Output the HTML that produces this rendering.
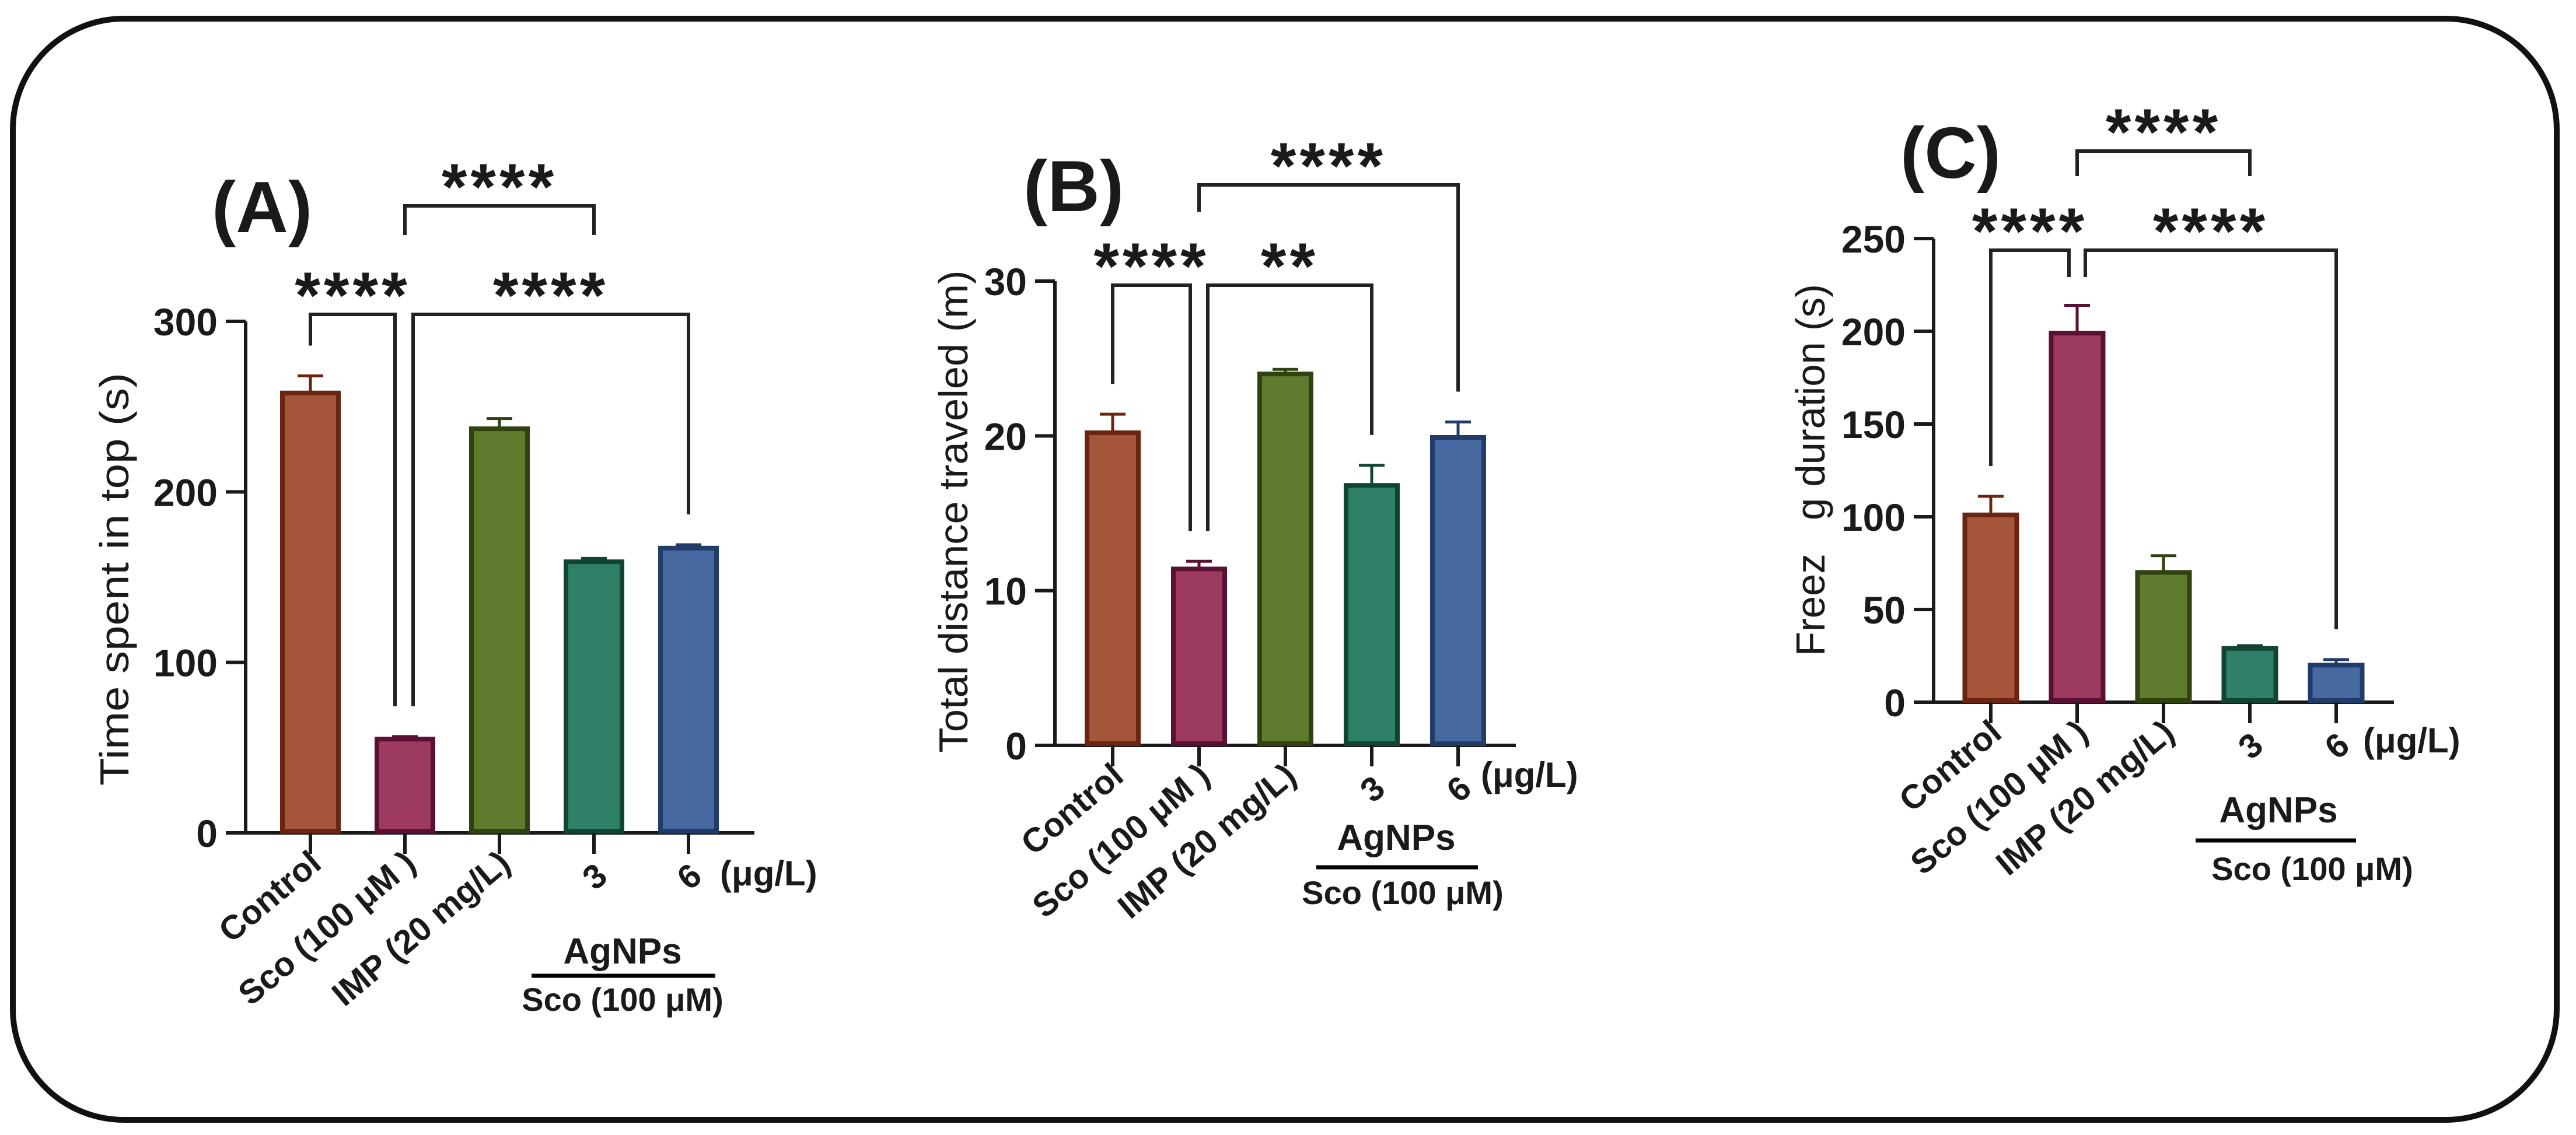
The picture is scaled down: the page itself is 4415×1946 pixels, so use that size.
<!DOCTYPE html>
<html><head><meta charset="utf-8"><title>AgNPs behavioural panels</title>
<style>
html,body{margin:0;padding:0;background:#fff;}
svg{display:block;}
text{font-family:"Liberation Sans",Arial,sans-serif;fill:#1a1a1a;}
</style></head>
<body>
<svg id="fig" width="4415" height="1946" viewBox="0 0 4415 1946" xmlns="http://www.w3.org/2000/svg">
<rect x="22" y="32" width="4360" height="1888" rx="190" ry="190" fill="#fff" stroke="#111" stroke-width="10"/>
</svg>
<script>
// ---- data ----
const categories = ["Control", "Sco (100 μM )", "IMP (20 mg/L)", "3", "6"];
const meansA = [258, 55, 237, 159, 167];
const errA = [10, 1.5, 6, 2, 2];
const ticksA = [0, 100, 200, 300];
const meansB = [20.2, 11.4, 24.0, 16.8, 19.9];
const errB = [1.2, 0.5, 0.3, 1.3, 1.0];
const ticksB = [0, 10, 20, 30];
const meansC = [101, 199, 70, 29, 20];
const errC = [10, 15, 9, 1.5, 3];
const ticksC = [0, 50, 100, 150, 200, 250];
const sigLabelsA = ["****", "****", "****"];
const sigLabelsB = ["****", "**", "****"];
const sigLabelsC = ["****", "****", "****"];

const fills = ["#a5553a", "#9c3a60", "#5f7c2e", "#2e8068", "#4669a2"];
const strokes = ["#6a2410", "#5a1032", "#2f4210", "#124432", "#223c6a"];
const NS = "http://www.w3.org/2000/svg";
const svg = document.getElementById("fig");

function mk(tag, attrs, parent, txt) {
  const e = document.createElementNS(NS, tag);
  for (const k in attrs) e.setAttribute(k, attrs[k]);
  if (txt !== undefined) e.textContent = txt;
  (parent || svg).appendChild(e);
  return e;
}

function panel(cfg) {
  const g = mk("g", {});
  
  
  const yS = v => cfg.y0 - (v / cfg.max) * (cfg.y0 - cfg.yTop);
  const xS = i => cfg.x1 + i * cfg.step;
  const ya = mk("line", {x1: cfg.ax, y1: cfg.yTop, x2: cfg.ax, y2: cfg.y0, stroke: "#1a1a1a", "stroke-width": 6}, g);
  
  
  const xa = mk("line", {x1: cfg.ax - 3, y1: cfg.y0, x2: cfg.xEnd, y2: cfg.y0, stroke: "#1a1a1a", "stroke-width": 6}, g);
  
  
  cfg.ticks.forEach(t => {
    const y = yS(t);
    const tl = mk("line", {x1: cfg.ax - 34, y1: y, x2: cfg.ax, y2: y, stroke: "#1a1a1a", "stroke-width": 6}, g);
    
    
    const tt = mk("text", {x: cfg.ax - 48, y: y + 24, "text-anchor": "end", "font-size": 66, "font-weight": "bold", fill: "#222"}, g, String(t));
    
    
  });
  cfg.means.forEach((m, i) => {
    const cx = xS(i), top = yS(m), w = cfg.bw;
    const ec = yS(m + cfg.err[i]);
    const el = mk("line", {x1: cx, y1: top, x2: cx, y2: ec, stroke: strokes[i], "stroke-width": 5}, g);
    
    
    const ecap = mk("line", {x1: cx - 22, y1: ec, x2: cx + 22, y2: ec, stroke: strokes[i], "stroke-width": 5}, g);
    
    
    const r = mk("rect", {x: cx - w / 2 + 4, y: top, width: w - 8, height: cfg.y0 - top - 3, fill: fills[i], stroke: strokes[i], "stroke-width": 8}, g);
    
    
    const xt = mk("line", {x1: cx, y1: cfg.y0, x2: cx, y2: cfg.y0 + 36, stroke: "#1a1a1a", "stroke-width": 6}, g);
    
    
    let lx, ly;
    if (i < 3) { lx = cx + 22; ly = cfg.y0 + 58; }
    else { lx = cx + 14; ly = cfg.y0 + 90; }
    const lt = mk("text", {x: lx, y: ly, "text-anchor": i < 3 ? "end" : "middle", "font-size": 58, "font-weight": "bold", fill: "#222", transform: "rotate(-40 " + lx + " " + ly + ")"}, g, categories[i]);
    
    
  });
  cfg.brackets.forEach((b, k) => {
    const xa_ = xS(b.a) + (b.aOff || 0), xb_ = xS(b.b) + (b.bOff || 0);
    const ea = b.legA ? b.y + b.legA : yS(cfg.means[b.a] + cfg.err[b.a]) - 52;
    const eb = b.legB ? b.y + b.legB : yS(cfg.means[b.b] + cfg.err[b.b]) - 52;
    const p = mk("path", {d: `M${xa_} ${ea} L${xa_} ${b.y} L${xb_} ${b.y} L${xb_} ${eb}`, fill: "none", stroke: "#222", "stroke-width": 6}, g);
    
    
    const st = mk("text", {x: (xa_ + xb_) / 2, y: b.y + 6, "text-anchor": "middle", "font-size": 112, "font-weight": "bold", "letter-spacing": 6, fill: "#111"}, g, cfg.sig[k]);
    
    
  });
  const pl = mk("text", {x: cfg.letter[0], y: cfg.letter[1], "font-size": 124, "font-weight": "bold", fill: "#1a1a1a"}, g, cfg.letterText);
  
  
  const yt = mk("text", {x: cfg.yt[0], y: cfg.yt[1], "text-anchor": "middle", "font-size": 70, fill: "#222", textLength: cfg.yt[2], lengthAdjust: "spacingAndGlyphs", transform: `rotate(-90 ${cfg.yt[0]} ${cfg.yt[1]})`}, g, cfg.ytitle);
  
  
  const un = mk("text", {x: cfg.unit[0], y: cfg.unit[1], "font-size": 60, "font-weight": "bold", fill: "#222"}, g, "(μg/L)");
  
  
  const ag = mk("text", {x: cfg.ag[0], y: cfg.ag[1], "text-anchor": "middle", "font-size": 62, "font-weight": "bold", fill: "#000"}, g, "AgNPs");
  
  
  const al = mk("line", {x1: cfg.ag[2], y1: cfg.ag[3], x2: cfg.ag[4], y2: cfg.ag[3], stroke: "#000", "stroke-width": 7}, g);
  
  
  const sc = mk("text", {x: cfg.sco[0], y: cfg.sco[1], "text-anchor": "middle", "font-size": 56, "font-weight": "bold", fill: "#222"}, g, "Sco (100 μM)");
  
  
}

panel({name: "panel-a-time-in-top", ax: 421, y0: 1428, yTop: 551, max: 300, ticks: ticksA, xEnd: 1293, x1: 532, step: 162, bw: 104,
  means: meansA, err: errA, sig: sigLabelsA,
  brackets: [{a: 0, b: 1, bOff: -17, y: 539}, {a: 1, aOff: 14, b: 4, y: 539}, {a: 1, b: 3, y: 353, legA: 50, legB: 50}],
  letter: [363, 398], letterText: "(A)", yt: [220, 993, 708], ytitle: "Time spent in top (s)",
  unit: [1234, 1518], ag: [1067, 1652, 911, 1673, 1226], sco: [1067, 1733]});

panel({name: "panel-b-distance", ax: 1808, y0: 1278, yTop: 482, max: 30, ticks: ticksB, xEnd: 2598, x1: 1907, step: 148, bw: 96,
  means: meansB, err: errB, sig: sigLabelsB,
  brackets: [{a: 0, b: 1, bOff: -15, y: 489}, {a: 1, aOff: 15, b: 3, y: 489}, {a: 1, b: 4, y: 317, legA: 46}],
  letter: [1754, 362], letterText: "(B)", yt: [1658, 877, 827], ytitle: "Total distance traveled (m)",
  unit: [2538, 1349], ag: [2393, 1457, 2256, 1487, 2533], sco: [2404, 1550]});

panel({name: "panel-c-freezing", ax: 3314, y0: 1204, yTop: 409, max: 250, ticks: ticksC, xEnd: 4103, x1: 3412, step: 148, bw: 97,
  means: meansC, err: errC, sig: sigLabelsC,
  brackets: [{a: 0, b: 1, bOff: -14, y: 429, legB: 46}, {a: 1, aOff: 14, b: 4, y: 429, legA: 46}, {a: 1, b: 3, y: 259, legA: 43, legB: 43}],
  letter: [3257, 305], letterText: "(C)", yt: [3127, 806, 638], ytitle: "Freez\u00a0\u00a0\u00a0g duration (s)",
  unit: [4050, 1290], ag: [3905, 1410, 3763, 1441, 4038], sco: [3963, 1509]});
</script>
</body></html>
